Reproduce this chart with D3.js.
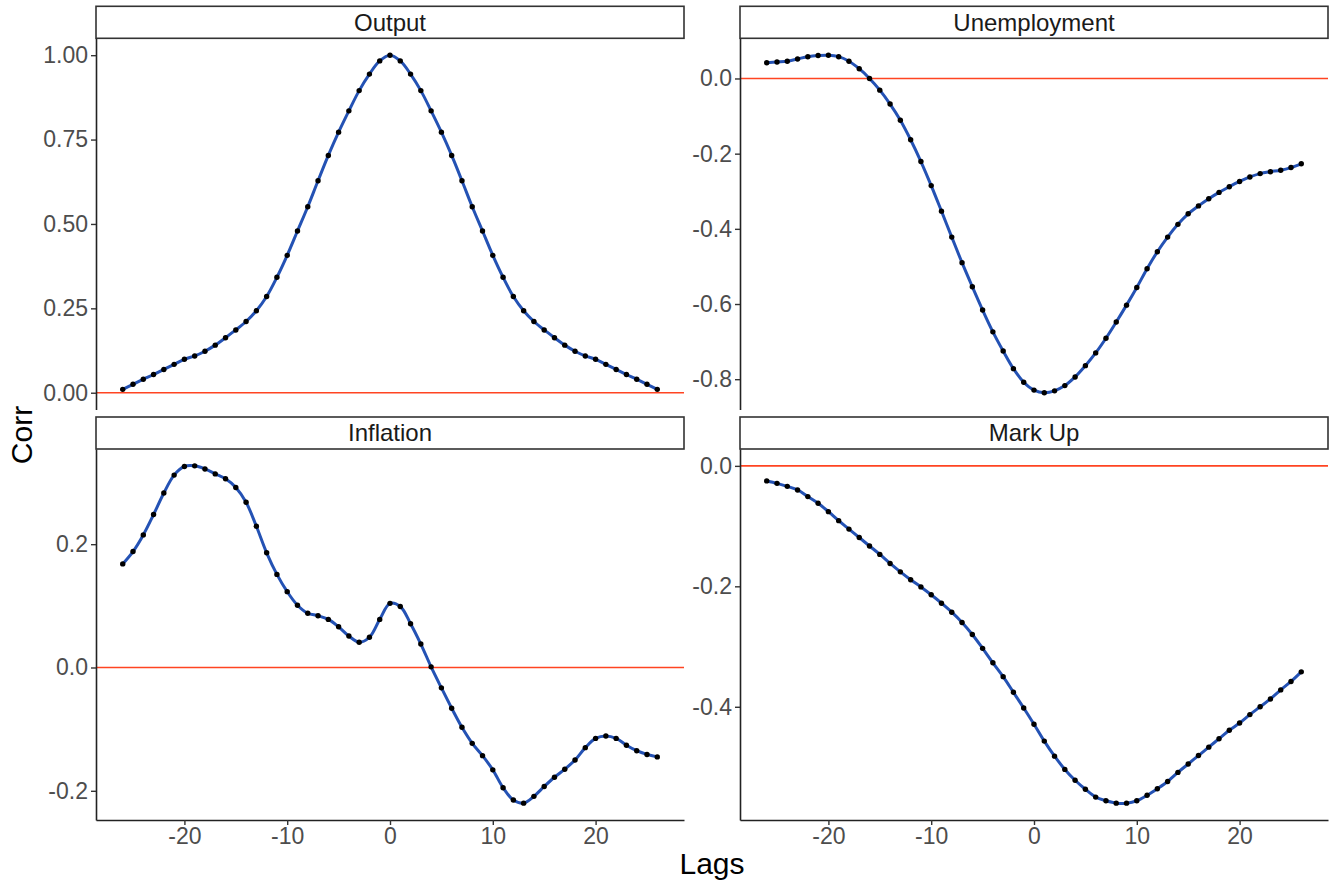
<!DOCTYPE html>
<html>
<head>
<meta charset="utf-8">
<script src="https://cdn.jsdelivr.net/npm/d3@7"></script>
<style>
  body { margin: 0; background: #fff; }
  text { font-family: "Liberation Sans", Arial, sans-serif; }
</style>
</head>
<body>
<svg id="chart" width="1336" height="882"></svg>
<script>
"use strict";

let lags = [-26, -25, -24, -23, -22, -21, -20, -19, -18, -17, -16, -15, -14, -13, -12, -11, -10, -9, -8, -7, -6, -5, -4, -3, -2, -1,
    0, 1, 2, 3, 4, 5, 6, 7, 8, 9, 10, 11, 12, 13, 14, 15, 16, 17, 18, 19, 20, 21, 22, 23, 24, 25, 26];

let panel_names = ["Output", "Unemployment", "Inflation", "Mark Up"];

let output = [0.010, 0.025, 0.040, 0.054, 0.069, 0.084, 0.099, 0.109, 0.123, 0.141, 0.163, 0.186, 0.211, 0.243, 0.285, 0.342,
    0.407, 0.479, 0.551, 0.628, 0.703, 0.772, 0.835, 0.895, 0.944, 0.983,
    1.000,
    0.983, 0.944, 0.895, 0.835, 0.772, 0.703, 0.628, 0.551, 0.479, 0.407, 0.342, 0.285, 0.243, 0.211, 0.186,
    0.163, 0.141, 0.123, 0.109, 0.099, 0.084, 0.069, 0.054, 0.040, 0.025, 0.010];

let unemployment = [0.042, 0.044, 0.046, 0.052, 0.058, 0.061, 0.062, 0.058, 0.046, 0.026, 0.000, -0.031, -0.068, -0.111,
    -0.163, -0.221, -0.285, -0.353, -0.422, -0.490, -0.554, -0.616, -0.674, -0.725, -0.772, -0.808,
    -0.829, -0.836, -0.831, -0.817, -0.794, -0.764, -0.730, -0.691, -0.648, -0.603, -0.556, -0.506, -0.461,
    -0.422, -0.388, -0.360, -0.339, -0.320, -0.303, -0.288, -0.274, -0.262, -0.253, -0.248, -0.244, -0.237, -0.227];

let inflation = [0.168, 0.188, 0.215, 0.248, 0.283, 0.312, 0.326, 0.327, 0.322, 0.314, 0.306, 0.292, 0.268, 0.229, 0.186,
    0.151, 0.123, 0.101, 0.088, 0.084, 0.078, 0.066, 0.051, 0.041, 0.049, 0.078,
    0.104, 0.099, 0.071, 0.038, 0.001, -0.033, -0.066, -0.097, -0.123, -0.143, -0.166, -0.195, -0.215, -0.220,
    -0.209, -0.193, -0.178, -0.165, -0.150, -0.130, -0.115, -0.111, -0.115, -0.126, -0.135, -0.141, -0.145];

let mark_up = [-0.025, -0.029, -0.034, -0.040, -0.051, -0.062, -0.076, -0.091, -0.105, -0.119, -0.133, -0.147, -0.162,
    -0.176, -0.189, -0.201, -0.214, -0.228, -0.243, -0.260, -0.280, -0.303, -0.327, -0.350, -0.376, -0.402,
    -0.429, -0.457, -0.482, -0.504, -0.522, -0.537, -0.550, -0.556, -0.560, -0.560, -0.556, -0.547, -0.536,
    -0.524, -0.509, -0.495, -0.481, -0.467, -0.453, -0.439, -0.427, -0.413, -0.400, -0.387, -0.372, -0.358, -0.342];

let x_ticks = [-20, -10, 0, 10, 20];
let y_ticks = [
    [0, 0.25, 0.5, 0.75, 1.0],
    [-0.8, -0.6, -0.4, -0.2, 0.0],
    [-0.2, 0.0, 0.2],
    [-0.4, -0.2, 0.0]
];
let y_formats = [".2f", ".1f", ".1f", ".1f"];
let series = [output, unemployment, inflation, mark_up];

// layout (facet_wrap 2x2, free y)
let col_x = [96, 740];
let panel_w = 588;
let row_y = [38.3, 449];
let panel_h = [371.3, 371];
let strip_h = 32;

let svg = d3.select("#chart");

let x_pad = (d3.max(lags) - d3.min(lags)) * 0.05;

for (let i = 0; i < 4; i++) {
    let col = i % 2;
    let row = Math.floor(i / 2);
    let x0 = col_x[col];
    let y0 = row_y[row];
    let h = panel_h[row];

    let x = d3.scaleLinear()
        .domain([d3.min(lags) - x_pad, d3.max(lags) + x_pad])
        .range([x0, x0 + panel_w]);

    let vals = series[i];
    let lo = Math.min(0, d3.min(vals));
    let hi = Math.max(0, d3.max(vals));
    let y_pad = (hi - lo) * 0.05;
    let y = d3.scaleLinear().domain([lo - y_pad, hi + y_pad]).range([y0 + h, y0]);

    let g = svg.append("g");

    // strip
    g.append("rect")
        .attr("x", x0).attr("y", y0 - strip_h)
        .attr("width", panel_w).attr("height", strip_h)
        .attr("fill", "#fff").attr("stroke", "#333").attr("stroke-width", 1.6);
    g.append("text")
        .attr("x", x0 + panel_w / 2).attr("y", y0 - strip_h / 2)
        .attr("dy", "0.35em")
        .attr("text-anchor", "middle")
        .attr("font-size", 24)
        .attr("fill", "#1a1a1a")
        .text(panel_names[i]);

    // zero line
    g.append("line")
        .attr("x1", x0).attr("x2", x0 + panel_w)
        .attr("y1", y(0)).attr("y2", y(0))
        .attr("stroke", "#FF4422").attr("stroke-width", 1.6);

    // smooth line
    let line = d3.line()
        .x((d, j) => x(lags[j]))
        .y(d => y(d))
        .curve(d3.curveCatmullRom.alpha(0.5));
    g.append("path")
        .datum(vals)
        .attr("d", line)
        .attr("fill", "none")
        .attr("stroke", "#2452B4")
        .attr("stroke-width", 3);

    // points
    g.selectAll("circle.pt")
        .data(vals)
        .enter()
        .append("circle")
        .attr("class", "pt")
        .attr("cx", (d, j) => x(lags[j]))
        .attr("cy", d => y(d))
        .attr("r", 2.7)
        .attr("fill", "#000");

    // y axis
    let y_axis = d3.axisLeft(y)
        .tickValues(y_ticks[i])
        .tickFormat(d3.format(y_formats[i]))
        .tickSize(5)
        .tickSizeOuter(0)
        .tickPadding(3);
    let ya = g.append("g")
        .attr("transform", "translate(" + x0 + ",0)")
        .call(y_axis);
    ya.select(".domain").attr("stroke", "#222").attr("stroke-width", 1.6);
    ya.selectAll(".tick line").attr("stroke", "#333").attr("stroke-width", 1.4);
    ya.selectAll(".tick text")
        .attr("font-size", 23)
        .attr("fill", "#4D4D4D")
        .attr("font-family", "Liberation Sans, Arial, sans-serif")
        .text(function(d) { return d3.format(y_formats[i])(d).replace("\u2212", "-"); });

    // x axis only on bottom row
    if (row == 1) {
        let x_axis = d3.axisBottom(x)
            .tickValues(x_ticks)
            .tickFormat(d => String(d))
            .tickSize(5)
            .tickSizeOuter(0)
            .tickPadding(3);
        let xa = g.append("g")
            .attr("transform", "translate(0," + (y0 + h) + ")")
            .call(x_axis);
        xa.select(".domain").attr("stroke", "#222").attr("stroke-width", 1.6);
        xa.selectAll(".tick line").attr("stroke", "#333").attr("stroke-width", 1.4);
        xa.selectAll(".tick text")
            .attr("font-size", 23)
            .attr("fill", "#4D4D4D")
            .attr("font-family", "Liberation Sans, Arial, sans-serif");
    }
}

// axis titles
svg.append("text")
    .attr("x", 712).attr("y", 874)
    .attr("text-anchor", "middle")
    .attr("font-size", 30)
    .attr("fill", "#000")
    .text("Lags");

svg.append("text")
    .attr("transform", "translate(32,435) rotate(-90)")
    .attr("text-anchor", "middle")
    .attr("font-size", 30)
    .attr("fill", "#000")
    .text("Corr");
</script>
</body>
</html>
